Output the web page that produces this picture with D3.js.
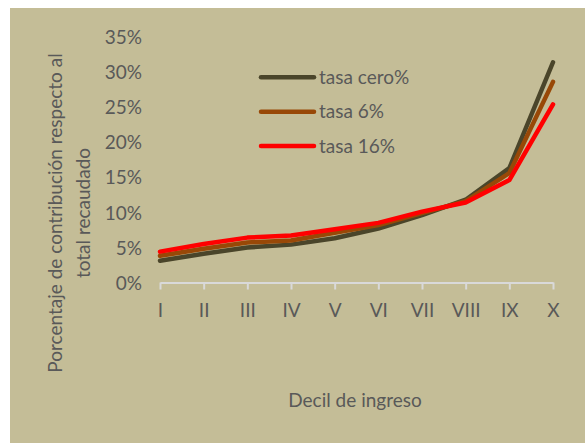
<!DOCTYPE html>
<html>
<head>
<meta charset="utf-8">
<script src="https://cdn.jsdelivr.net/npm/d3@7"></script>
<style>
	body { margin: 0; background: #fff; }
	svg text { font-family: Lato, "Open Sans", sans-serif; fill: #595959; }
</style>
</head>
<body>
<svg id="chart" width="585" height="444"></svg>
<script>
// deciles de ingreso
var deciles = ['I', 'II', 'III', 'IV', 'V', 'VI', 'VII', 'VIII', 'IX', 'X'];

// porcentaje de contribucion (%)
var tasaCero = [3.1, 4.1, 5.0, 5.4, 6.3, 7.7, 9.6, 11.8, 16.3, 31.4];
var tasa6 = [3.8, 4.8, 5.7, 6.0, 7.1, 8.2, 9.9, 11.6, 15.6, 28.6];
var tasa16 = [4.4, 5.5, 6.4, 6.7, 7.6, 8.5, 10.1, 11.4, 14.6, 25.4];

var yTicks = [0, 5, 10, 15, 20, 25, 30, 35];

var series = [
	{name: 'tasa cero%', values: tasaCero, color: '#4A452A'},
	{name: 'tasa 6%', values: tasa6, color: '#984807'},
	{name: 'tasa 16%', values: tasa16, color: '#FF0000'}
];

var svg = d3.select('#chart');

svg.append('rect')
	.attr('x', 10)
	.attr('y', 8)
	.attr('width', 575)
	.attr('height', 435)
	.attr('fill', '#C4BD97');

var x = d3.scalePoint().domain(deciles).range([160, 553]);
var y = d3.scaleLinear().domain([0, 35]).range([282.5, 37]);

// eje y, solo etiquetas
var yAxis = svg.append('g')
	.attr('transform', 'translate(142,0)')
	.call(d3.axisLeft(y).tickValues(yTicks).tickSize(0).tickPadding(0)
		.tickFormat(function(d) { return d + '%'; }));
yAxis.select('.domain').remove();
yAxis.selectAll('text')
	.attr('dy', '0.35em')
	.style('font-size', '19px');

// eje x
var xAxis = svg.append('g')
	.attr('transform', 'translate(0,' + y(0) + ')')
	.call(d3.axisBottom(x).tickSizeInner(7).tickSizeOuter(0).tickPadding(14));
xAxis.select('.domain')
	.attr('stroke', '#D9D9D9')
	.attr('stroke-width', 2);
xAxis.selectAll('.tick line')
	.attr('stroke', '#D9D9D9')
	.attr('stroke-width', 2);
xAxis.selectAll('text')
	.attr('dy', '0.35em')
	.attr('y', 27.5)
	.style('font-size', '19px');

var line = d3.line()
	.x(function(d, i) { return x(deciles[i]); })
	.y(function(d) { return y(d); });

svg.append('g').selectAll('path')
	.data(series)
	.enter()
		.append('path')
			.attr('d', function(s) { return line(s.values); })
			.attr('fill', 'none')
			.attr('stroke', function(s) { return s.color; })
			.attr('stroke-width', 4.5)
			.attr('stroke-linejoin', 'round')
			.attr('stroke-linecap', 'round');

// leyenda
var legend = svg.append('g').selectAll('g')
	.data(series)
	.enter()
		.append('g')
			.attr('transform', function(s, i) { return 'translate(261,' + (77.3 + i * 34.4) + ')'; });

legend.append('line')
	.attr('x1', 0)
	.attr('x2', 53)
	.attr('stroke', function(s) { return s.color; })
	.attr('stroke-width', 4.5)
	.attr('stroke-linecap', 'round');

legend.append('text')
	.attr('x', 58)
	.attr('dy', '0.35em')
	.style('font-size', '19px')
	.text(function(s) { return s.name; });

// titulos de ejes
svg.append('text')
	.attr('x', 355)
	.attr('y', 400)
	.attr('dy', '0.35em')
	.attr('text-anchor', 'middle')
	.style('font-size', '19px')
	.text('Decil de ingreso');

var yTitle = svg.append('text')
	.attr('transform', 'translate(55,213) rotate(-90)')
	.attr('text-anchor', 'middle')
	.style('font-size', '19px');
yTitle.append('tspan')
	.attr('x', 0)
	.attr('dy', '0.35em')
	.text('Porcentaje de contribución respecto al');
yTitle.append('tspan')
	.attr('x', 0)
	.attr('dy', '28')
	.text('total recaudado');
</script>
</body>
</html>
